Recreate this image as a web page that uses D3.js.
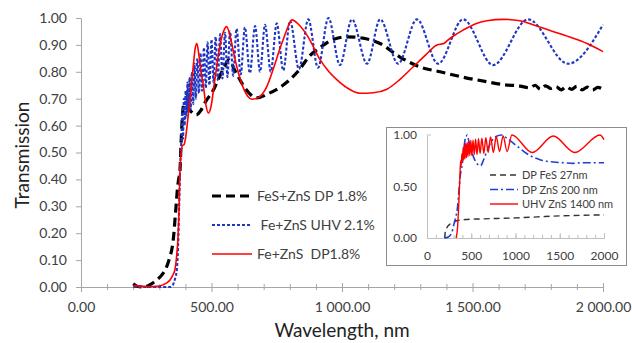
<!DOCTYPE html>
<html>
<head>
<meta charset="utf-8">
<script src="https://cdn.jsdelivr.net/npm/d3@7"></script>
<style>
  body { margin: 0; background: #fff; }
  text { font-family: Lato, "Liberation Sans", sans-serif; }
</style>
</head>
<body>
<div id="chart"></div>
<script>
// main chart series: [wavelength nm, transmission]
const fesZnsDP = [
  [200,0.012],[215,0.003],[240,0.0],[270,0.012],[290,0.026],[310,0.045],[328,0.075],[340,0.11],
  [348,0.14],[355,0.19],[360,0.25],[365,0.31],[369,0.36],[374,0.4],[379,0.43],[384,0.55],
  [389,0.64],[394,0.68],[402,0.675],[415,0.66],[430,0.645],[442,0.64],[458,0.655],[478,0.69],
  [506,0.73],[530,0.78],[550,0.82],[566,0.844],[592,0.8],[621,0.75],[645,0.72],[673,0.703],
  [720,0.72],[774,0.75],[830,0.8],[877,0.86],[916,0.89],[954,0.915],[1019,0.93],[1080,0.925],
  [1146,0.905],[1222,0.855],[1299,0.818],[1376,0.8],[1464,0.78],[1555,0.763],[1620,0.752],
  [1682,0.747],[1720,0.74],[1740,0.75],[1760,0.735],[1780,0.748],[1800,0.738],[1820,0.745],
  [1840,0.733],[1860,0.744],[1880,0.735],[1900,0.746],[1920,0.733],[1940,0.743],[1960,0.732],
  [1980,0.742],[2000,0.735]
];

const feZnsUHV = [
  [200,0.0],[300,0.0],[340,0.0],[352,0.008],[360,0.03],[367,0.063],[372,0.15],[376,0.3],
  [380,0.45],[385,0.56],[388,0.66],[391,0.55],[394,0.7],[397,0.6],[401,0.73],[404,0.63],
  [408,0.76],[412,0.65],[416,0.78],[420,0.66],[425,0.8],[430,0.68],[435,0.83],[440,0.7],
  [446,0.85],[452,0.72],[458,0.87],[464,0.73],[471,0.89],[478,0.74],[485,0.91],[492,0.75],
  [500,0.92],[508,0.76],[516,0.93],[524,0.77],[533,0.94],[542,0.775],[552,0.945],[561,0.78],
  [571,0.95],[583,0.785],[596,0.96],[612,0.79],[628,0.965],[647,0.795],[667,0.97],[686,0.8],
  [705,0.975],[727,0.8],[750,0.98],[775,0.805],[801,0.99],[835,0.81],[871,0.995],[908,0.815],
  [948,1.0],[992,0.825],[1038,0.995],[1096,0.83],[1146,0.995],[1215,0.83],[1287,0.995],
  [1368,0.83],[1464,0.995],[1579,0.825],[1713,0.995],[1866,0.83],[2000,0.975]
];

const feZnsDP = [
  [200,0.005],[250,0.002],[300,0.004],[314,0.008],[330,0.016],[341,0.026],[352,0.045],[360,0.065],
  [366,0.11],[372,0.19],[376,0.3],[379,0.43],[384,0.5],[388,0.525],[395,0.53],[400,0.55],
  [410,0.63],[418,0.7],[430,0.82],[438,0.89],[444,0.905],[452,0.86],[460,0.8],[468,0.755],
  [478,0.68],[488,0.647],[498,0.67],[510,0.75],[520,0.82],[535,0.91],[548,0.955],[558,0.968],
  [572,0.93],[585,0.87],[598,0.815],[620,0.745],[638,0.71],[655,0.698],[680,0.705],[712,0.745],
  [740,0.82],[760,0.88],[774,0.918],[790,0.96],[808,0.993],[835,0.975],[870,0.93],[916,0.845],
  [950,0.8],[981,0.77],[1020,0.74],[1069,0.72],[1120,0.722],[1172,0.735],[1220,0.77],[1272,0.818],
  [1320,0.862],[1364,0.9],[1390,0.905],[1402,0.915],[1430,0.935],[1464,0.955],[1510,0.978],
  [1555,0.99],[1620,0.995],[1682,0.99],[1740,0.972],[1808,0.95],[1870,0.93],[1939,0.905],[2000,0.875]
];

// inset series
const insetFeS = [
  [200,0.0],[205,0.05],[225,0.1],[260,0.135],[300,0.155],[350,0.17],[450,0.18],[600,0.185],
  [800,0.19],[1000,0.195],[1250,0.205],[1500,0.215],[1750,0.22],[2000,0.225]
];

const insetZnS = [
  [200,0.0],[240,0.01],[280,0.05],[300,0.12],[330,0.22],[345,0.3],[360,0.45],[375,0.6],[392,0.68],
  [410,0.8],[429,0.95],[445,0.99],[456,1.0],[470,0.95],[490,0.88],[520,0.8],[550,0.74],[580,0.71],
  [605,0.7],[640,0.76],[680,0.85],[730,0.94],[780,0.985],[843,1.0],[900,0.97],[975,0.92],
  [1050,0.87],[1126,0.82],[1200,0.785],[1277,0.76],[1350,0.745],[1427,0.738],[1550,0.73],
  [1653,0.725],[1750,0.73],[1850,0.73],[2000,0.73]
];

const insetUHV = [
  [330,0.0],[345,0.1],[360,0.35],[372,0.6],[380,0.75],[386,0.7],[395,0.82],[401,0.74],[408,0.88],
  [415,0.76],[422,0.9],[429,0.77],[437,0.92],[445,0.78],[454,0.93],[463,0.79],[473,0.94],[484,0.8],
  [495,0.95],[507,0.8],[520,0.95],[534,0.81],[549,0.96],[565,0.81],[582,0.965],[600,0.82],
  [620,0.97],[642,0.82],[665,0.975],[691,0.83],[718,0.98],[750,0.83],[782,0.985],[820,0.84],
  [860,0.99],[905,0.84],[959,1.0],[1190,0.83],[1427,0.99],[1670,0.83],[1955,1.0],[2000,0.955]
];

const mainNames = ['FeS+ZnS DP 1.8%', ' Fe+ZnS UHV 2.1%', 'Fe+ZnS  DP1.8%'];
const insetNames = ['DP FeS 27nm', 'DP ZnS 200 nm', 'UHV ZnS 1400 nm'];

const xMajor = [0, 500, 1000, 1500, 2000];
const xMinor = [100, 200, 300, 400, 600, 700, 800, 900, 1100, 1200, 1300, 1400, 1600, 1700, 1800, 1900];
const yTicks = [0, 0.1, 0.2, 0.3, 0.4, 0.5, 0.6, 0.7, 0.8, 0.9, 1.0];
const insetXTicks = [0, 500, 1000, 1500, 2000];
const insetYTicks = [0, 0.5, 1.0];

const svg = d3.select('#chart')
  .append('svg')
  .attr('width', 632)
  .attr('height', 343);

const axisColor = '#a6a6a6';
const labelColor = '#404040';

const x = d3.scaleLinear().domain([0, 2000]).range([81, 603]);
const y = d3.scaleLinear().domain([0, 1]).range([287, 18]);

const locale = d3.formatLocale({ decimal: '.', thousands: ' ', grouping: [3], currency: ['', ''] });
const fmtX = locale.format(',.2f');

// y axis
const gy = svg.append('g')
  .attr('transform', `translate(${x(0)},0)`)
  .call(d3.axisLeft(y).tickValues(yTicks).tickSize(5).tickSizeOuter(0).tickPadding(9)
    .tickFormat(d3.format('.2f')));

// x axis minor + major
const gxMinor = svg.append('g')
  .attr('transform', `translate(0,${y(0)})`)
  .call(d3.axisBottom(x).tickValues(xMinor).tickSize(3).tickSizeOuter(0).tickFormat(''));
gxMinor.selectAll('.tick line').attr('y1', -3);
gxMinor.select('.domain').remove();

const gx = svg.append('g')
  .attr('transform', `translate(0,${y(0)})`)
  .call(d3.axisBottom(x).tickValues(xMajor).tickSize(5).tickSizeOuter(0).tickPadding(10)
    .tickFormat(fmtX));
gx.selectAll('.tick line').attr('y1', -4);

[gy, gx, gxMinor].forEach(g => {
  g.selectAll('path, line').attr('stroke', axisColor);
  g.selectAll('text').attr('fill', labelColor).style('font-size', '14px');
});

svg.append('text')
  .attr('x', 342)
  .attr('y', 337)
  .attr('text-anchor', 'middle')
  .attr('fill', '#222')
  .style('font-size', '19px')
  .text('Wavelength, nm');

svg.append('text')
  .attr('transform', 'translate(29,155) rotate(-90)')
  .attr('text-anchor', 'middle')
  .attr('fill', '#222')
  .style('font-size', '19px')
  .text('Transmission');

const line = d3.line()
  .x(d => x(d[0]))
  .y(d => y(d[1]))
  .curve(d3.curveMonotoneX);

const mainSeries = [
  { data: fesZnsDP, color: '#000', dash: '9,5', width: 3.2 },
  { data: feZnsUHV, color: '#1f35c4', dash: '3,2', width: 2.1 },
  { data: feZnsDP, color: '#ff0000', dash: null, width: 1.6 }
];

// draw order: black, blue, red on top
svg.selectAll('.line')
  .data(mainSeries)
  .enter()
  .append('path')
  .attr('class', 'line')
  .attr('fill', 'none')
  .attr('stroke', d => d.color)
  .attr('stroke-width', d => d.width)
  .attr('stroke-dasharray', d => d.dash)
  .attr('d', d => line(d.data));

// main legend
const legend = svg.selectAll('.legend')
  .data(mainSeries)
  .enter()
  .append('g')
  .attr('class', 'legend')
  .attr('transform', (d, i) => `translate(212, ${196 + i * 29})`);

legend.append('line')
  .attr('x1', 0).attr('x2', 40)
  .attr('stroke', d => d.color)
  .attr('stroke-width', d => d.width)
  .attr('stroke-dasharray', d => d.dash);

legend.append('text')
  .attr('x', 45)
  .attr('y', 5)
  .attr('fill', labelColor)
  .style('font-size', '14px')
  .style('white-space', 'pre')
  .text((d, i) => mainNames[i]);

// inset
svg.append('rect')
  .attr('x', 386.5).attr('y', 127.5)
  .attr('width', 240).attr('height', 138)
  .attr('fill', '#fff')
  .attr('stroke', '#8c8c8c');

const ix = d3.scaleLinear().domain([0, 2000]).range([427, 604]);
const iy = d3.scaleLinear().domain([0, 1]).range([238, 135]);

const igy = svg.append('g')
  .attr('transform', `translate(${ix(0)},0)`)
  .call(d3.axisLeft(iy).tickValues(insetYTicks).tickSize(0).tickSizeOuter(0).tickPadding(10)
    .tickFormat(d3.format('.2f')));

const igxMinor = svg.append('g')
  .attr('transform', `translate(0,${iy(0)})`)
  .call(d3.axisBottom(ix).tickValues(d3.range(0, 2001, 100)).tickSize(3).tickSizeOuter(0).tickFormat(''));
igxMinor.selectAll('.tick line').attr('y1', -3).attr('y2', 0);

const igx = svg.append('g')
  .attr('transform', `translate(0,${iy(0)})`)
  .call(d3.axisBottom(ix).tickValues(insetXTicks).tickSize(0).tickSizeOuter(0).tickPadding(13)
    .tickFormat(d3.format('d')));
igx.selectAll('.tick line').attr('y1', -5);

[igy, igx, igxMinor].forEach(g => {
  g.selectAll('path, line').attr('stroke', '#bfbfbf');
  g.selectAll('text').attr('fill', labelColor).style('font-size', '12px');
});

svg.append('line')
  .attr('x1', ix(0)).attr('x2', ix(0) + 4)
  .attr('y1', iy(1)).attr('y2', iy(1))
  .attr('stroke', '#bfbfbf');

const iline = d3.line()
  .x(d => ix(d[0]))
  .y(d => iy(d[1]))
  .curve(d3.curveMonotoneX);

const insetSeries = [
  { data: insetFeS, color: '#333', dash: '6,4', width: 1.4 },
  { data: insetZnS, color: '#1f3fd8', dash: '8,3,2,3', width: 1.6 },
  { data: insetUHV, color: '#ff0000', dash: null, width: 1.4 }
];

svg.selectAll('.iline')
  .data(insetSeries)
  .enter()
  .append('path')
  .attr('class', 'iline')
  .attr('fill', 'none')
  .attr('stroke', d => d.color)
  .attr('stroke-width', d => d.width)
  .attr('stroke-dasharray', d => d.dash)
  .attr('d', d => iline(d.data));

const ilegend = svg.selectAll('.ilegend')
  .data(insetSeries)
  .enter()
  .append('g')
  .attr('class', 'ilegend')
  .attr('transform', (d, i) => `translate(490, ${175 + i * 14.5})`);

ilegend.append('line')
  .attr('x1', 0).attr('x2', 28)
  .attr('stroke', d => d.color)
  .attr('stroke-width', d => d.width)
  .attr('stroke-dasharray', d => d.dash);

ilegend.append('text')
  .attr('x', 32)
  .attr('y', 4)
  .attr('fill', labelColor)
  .style('font-size', '11px')
  .text((d, i) => insetNames[i]);
</script>
</body>
</html>
